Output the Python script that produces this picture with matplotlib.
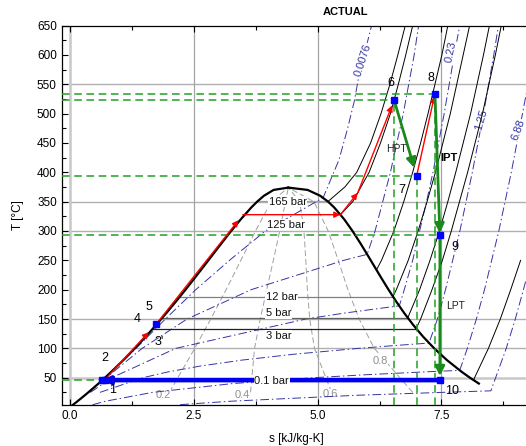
import matplotlib
matplotlib.use("Agg")
import matplotlib.pyplot as plt
from matplotlib.ticker import MultipleLocator, FormatStrFormatter

plt.rcParams['font.family'] = ['Liberation Sans', 'DejaVu Sans']

# saturation dome, steam tables (T degC, s kJ/kg-K)
t_sat = [0.01, 10, 20, 30, 40, 50, 60, 80, 100, 120, 140, 160, 180, 200, 220,
         240, 260, 280, 300, 320, 340, 350, 360, 370, 373.95]
s_liq = [0.0, 0.1511, 0.2965, 0.4368, 0.5724, 0.7038, 0.8313, 1.0753, 1.3069,
         1.5276, 1.7391, 1.9427, 2.1396, 2.3309, 2.5178, 2.7015, 2.8838, 3.0668,
         3.2534, 3.4480, 3.6594, 3.7777, 3.9147, 4.1106, 4.407]
s_vap = [9.1562, 8.9008, 8.6672, 8.4533, 8.2569, 8.0763, 7.9096, 7.6122, 7.3549,
         7.1296, 6.9299, 6.7502, 6.5857, 6.4323, 6.2861, 6.1437, 6.0019, 5.8571,
         5.7045, 5.5362, 5.3357, 5.2112, 5.0526, 4.7971, 4.407]

# quality lines
q_T = [25, 100, 150, 200, 250, 300, 350, 373.95]
q_s = {
    0.2: [2.005, 2.517, 2.841, 3.151, 3.449, 3.744, 4.064, 4.407],
    0.4: [3.644, 3.726, 3.840, 3.972, 4.105, 4.234, 4.351, 4.407],
    0.6: [5.282, 4.936, 4.840, 4.792, 4.761, 4.724, 4.638, 4.407],
    0.8: [6.920, 6.145, 5.839, 5.612, 5.417, 5.214, 4.924, 4.407],
}
q_labels = ['0.2', '0.4', '0.6', '0.8']
q_lab_s = [1.88, 3.47, 5.25, 6.26]
q_lab_T = [21, 21, 22, 79]

# isobars, superheated part
p165_T = [350.3, 375, 400, 450, 500, 550, 600, 650]
p165_s = [5.21, 5.55, 5.79, 6.07, 6.28, 6.46, 6.62, 6.77]
p125_T = [327.8, 350, 400, 450, 500, 550, 600, 650]
p125_s = [5.46, 5.71, 6.04, 6.27, 6.47, 6.63, 6.78, 6.92]
p30_T = [233.9, 250, 300, 350, 400, 450, 500, 600, 650]
p30_s = [6.19, 6.29, 6.54, 6.74, 6.92, 7.08, 7.23, 7.51, 7.63]
p12_T = [188, 200, 250, 300, 350, 400, 500, 600, 650]
p12_s = [6.52, 6.59, 6.83, 7.03, 7.21, 7.38, 7.68, 7.94, 8.07]
p5_T = [151.9, 200, 250, 300, 350, 400, 500, 600, 650]
p5_s = [6.82, 7.06, 7.27, 7.46, 7.63, 7.79, 8.09, 8.35, 8.47]
p3_T = [133.5, 150, 200, 250, 300, 400, 500, 600, 650]
p3_s = [6.99, 7.08, 7.31, 7.52, 7.70, 8.03, 8.33, 8.59, 8.71]
p01_T = [45.8, 50, 100, 150, 200, 250]
p01_s = [8.15, 8.17, 8.45, 8.69, 8.90, 9.10]

# isobars inside the dome (T, s_f, s_g)
dome_bar_T = [350.3, 188.0, 151.9, 133.5]
dome_bar_sf = [3.78, 2.216, 1.861, 1.672]
dome_bar_sg = [5.21, 6.523, 6.821, 6.992]
dome_bar_col = ['#a0a0a0', '#808080', '#606060', '#202020']

bar_labels = ['165 bar', '125 bar', '12 bar', '5 bar', '3 bar', '0.1 bar']
bar_lab_s = [4.40, 4.37, 4.27, 4.21, 4.21, 4.07]
bar_lab_T = [350, 311, 187, 160, 121, 45]

# constant specific volume lines [m3/kg]
v0076_T = [25, 50, 100, 150, 200, 250, 300, 350, 356.5, 421, 473, 521, 567, 650]
v0076_s = [0.369, 0.708, 1.331, 1.925, 2.538, 3.219, 3.943, 4.97, 5.11, 5.43,
           5.60, 5.74, 5.84, 6.09]
v042_T = [25, 50, 100, 150, 200, 250, 260.2, 300, 400, 500, 600, 650]
v042_s = [0.375, 0.729, 1.455, 2.364, 3.657, 5.528, 6.00, 6.16, 6.47, 6.73,
          6.95, 7.04]
v023_T = [25, 50, 100, 150, 160, 170, 172.5, 200, 250, 300, 350, 400, 500, 600, 650]
v023_s = [0.411, 0.844, 2.135, 4.761, 5.531, 6.422, 6.65, 6.75, 6.92, 7.06,
          7.20, 7.33, 7.556, 7.76, 7.87]
v125_T = [25, 50, 60, 70, 80, 90, 100, 105, 109, 150, 200, 300, 400, 500, 600, 650]
v125_s = [0.603, 1.469, 1.984, 2.639, 3.472, 4.518, 5.825, 6.585, 7.25, 7.42,
          7.583, 7.873, 8.125, 8.351, 8.558, 8.652]
v688_T = [4, 10, 25, 40, 50, 55, 60, 62.5, 100, 150, 200, 300, 400, 500, 550]
v688_s = [0.455, 0.717, 1.667, 3.280, 4.920, 5.962, 7.180, 7.87, 8.024, 8.207,
          8.371, 8.660, 8.912, 9.138, 9.25]
v378_T = [4, 5, 10, 20, 25, 27.65, 100, 150, 200, 245]
v378_s = [2.223, 2.375, 3.260, 5.771, 7.51, 8.50, 8.81, 8.993, 9.157, 9.30]

v_labels = ['0.0076', '0.23', '1.25', '6.88']
v_lab_s = [5.915, 7.70, 8.30, 9.06]
v_lab_T = [592, 605, 489, 472]
v_lab_rot = [72, 78, 74, 70]

# cycle states
st_s = [0.649, 0.70, 1.74, 6.545, 7.0, 7.37, 7.47, 7.47]
st_T = [45.8, 46.5, 141.5, 523, 394, 534, 294, 45.8]

# heat addition path 2 -> 6 and reheat 7 -> 8
heat_s = [0.70, 1.74, 3.49, 5.46, 5.81, 6.545]
heat_T = [46.5, 141.5, 327.8, 327.8, 365, 523]
heat_shrink = [8, 5, 0, 0, 4]

labels_txt = ['1', '2', "3'", '4', '5', '6', '7', '8', '9', '10']
labels_s = [0.85, 0.71, 1.80, 1.35, 1.59, 6.48, 6.71, 7.28, 7.77, 7.72]
labels_T = [29, 84, 111, 150, 171, 552, 370, 561, 273, 28]

BLUE_V = '#3434a4'
RED = '#ff0000'
GREEN = '#1a8a1a'
GREEN_D = '#22a022'

fig = plt.figure(figsize=(5.26, 4.46), dpi=100)
ax = fig.add_axes([0.1173, 0.0926, 0.8922, 0.850])
ax.set_xlim(-0.17, 9.31)
ax.set_ylim(4, 650)

# grid
for t in [50, 100, 150, 300, 350, 550]:
    ax.axhline(t, color='#c8c8c8' if t == 50 else '#b0b0b0',
               lw=1.8 if t == 50 else 1.0, zorder=0)
for s in [0.0, 2.5, 5.0, 7.5]:
    ax.axvline(s, color='#c8c8c8' if s == 0 else '#a4a4a4',
               lw=1.8 if s == 0 else 0.9, zorder=0)

# quality lines
for k, lab, ls_, lt in zip(q_s, q_labels, q_lab_s, q_lab_T):
    ax.plot(q_s[k], q_T, color='#a0a0a0', lw=0.7, ls=(0, (6, 3)), zorder=1)
    ax.text(ls_, lt, lab, color='#909090', fontsize=8, ha='center', va='center',
            bbox=dict(fc='white', ec='none', pad=0.3), zorder=2)

# specific volume lines
for vs, vt in [(v0076_s, v0076_T), (v042_s, v042_T), (v023_s, v023_T),
               (v125_s, v125_T), (v688_s, v688_T), (v378_s, v378_T)]:
    ax.plot(vs, vt, color=BLUE_V, lw=0.7, ls=(0, (9, 3, 1.5, 3)), zorder=2)
for lab, ls_, lt, rot in zip(v_labels, v_lab_s, v_lab_T, v_lab_rot):
    ax.text(ls_, lt, lab, color=BLUE_V, fontsize=8, ha='center', va='center',
            rotation=rot, rotation_mode='anchor',
            bbox=dict(fc='white', ec='none', pad=0.3), zorder=3)

# isobars
for ps, pt in [(p165_s, p165_T), (p125_s, p125_T), (p30_s, p30_T), (p12_s, p12_T),
               (p5_s, p5_T), (p3_s, p3_T), (p01_s, p01_T)]:
    ax.plot(ps, pt, color='black', lw=0.7, zorder=3)
for t, a, b, c in zip(dome_bar_T, dome_bar_sf, dome_bar_sg, dome_bar_col):
    ax.plot([a, b], [t, t], color=c, lw=0.9, zorder=3)

# dome
ax.plot(s_liq, t_sat, color='black', lw=1.6, zorder=4)
ax.plot(s_vap[4:], t_sat[4:], color='black', lw=1.6, zorder=4)

# green dashed guides
for i in [0, 3, 4, 5, 6]:
    ax.plot([-0.17, st_s[i]], [st_T[i], st_T[i]], color=GREEN_D, lw=1.1,
            ls=(0, (5, 3)), zorder=5)
for i in [3, 4, 5]:
    ax.plot([st_s[i], st_s[i]], [4, st_T[i]], color=GREEN_D, lw=1.1,
            ls=(0, (5, 3)), zorder=5)


def arrow(p0, p1, color, lw, ms, shrink):
    ax.annotate('', xy=p1, xytext=p0, zorder=6,
                arrowprops=dict(arrowstyle='-|>', color=color, lw=lw,
                                shrinkA=0, shrinkB=shrink, mutation_scale=ms))


# heat addition (red)
for i in range(len(heat_s) - 1):
    arrow((heat_s[i], heat_T[i]), (heat_s[i + 1], heat_T[i + 1]), RED, 1.0, 9,
          heat_shrink[i])
arrow((st_s[4], st_T[4]), (st_s[5], st_T[5]), RED, 1.0, 9, 2)

# turbines (green)
arrow((st_s[3], st_T[3]), (st_s[4], st_T[4]), GREEN, 2.0, 14, 6)
arrow((st_s[5], st_T[5]), (st_s[6], st_T[6]), GREEN, 2.0, 14, 1)
arrow((st_s[6], st_T[6]), (st_s[7], st_T[7]), GREEN, 2.0, 14, 3)

# condenser (blue)
ax.annotate('', xy=(st_s[0], st_T[0]), xytext=(st_s[7] - 0.07, st_T[7]), zorder=6,
            arrowprops=dict(arrowstyle='-|>', color='#0000ee', lw=3.2,
                            shrinkA=0, shrinkB=0, mutation_scale=10))

# isobar labels
for lab, ls_, lt in zip(bar_labels, bar_lab_s, bar_lab_T):
    ax.text(ls_, lt, lab, fontsize=8, ha='center', va='center', color='#111111',
            bbox=dict(fc='white', ec='none', pad=0.4), zorder=7)

# state markers
ax.plot(st_s, st_T, ls='none', marker='s', ms=4.6, color='#0000ff', zorder=8)

for lab, ls_, lt in zip(labels_txt, labels_s, labels_T):
    ax.text(ls_, lt, lab, fontsize=9, ha='center', va='center', zorder=9)

ax.text(6.59, 440, 'HPT', fontsize=7.5, ha='center', va='center', color='#222222', zorder=9)
ax.text(7.66, 425, 'IPT', fontsize=8, ha='center', va='center', fontweight='bold', zorder=9)
ax.text(7.78, 172, 'LPT', fontsize=7.5, ha='center', va='center', color='#222222', zorder=9)

# axes styling
ax.xaxis.set_major_locator(MultipleLocator(2.5))
ax.xaxis.set_minor_locator(MultipleLocator(1.25))
ax.xaxis.set_major_formatter(FormatStrFormatter('%.1f'))
ax.yaxis.set_major_locator(MultipleLocator(50))
ax.yaxis.set_minor_locator(MultipleLocator(25))
ax.tick_params(which='both', direction='in', top=True, labelsize=8.5, colors='black')
ax.tick_params(which='major', length=4, width=0.8)
ax.tick_params(which='minor', length=3, width=0.8)
ax.spines['right'].set_visible(False)
for sp in ['left', 'bottom', 'top']:
    ax.spines[sp].set_linewidth(0.9)

ax.set_xlabel('s [kJ/kg-K]', fontsize=8.5, labelpad=8)
ax.set_ylabel('T [°C]', fontsize=8.5, labelpad=9)
fig.text(0.656, 0.973, 'ACTUAL', fontsize=8, fontweight='bold', ha='center', va='center')

fig.savefig('out.png', dpi=100)
